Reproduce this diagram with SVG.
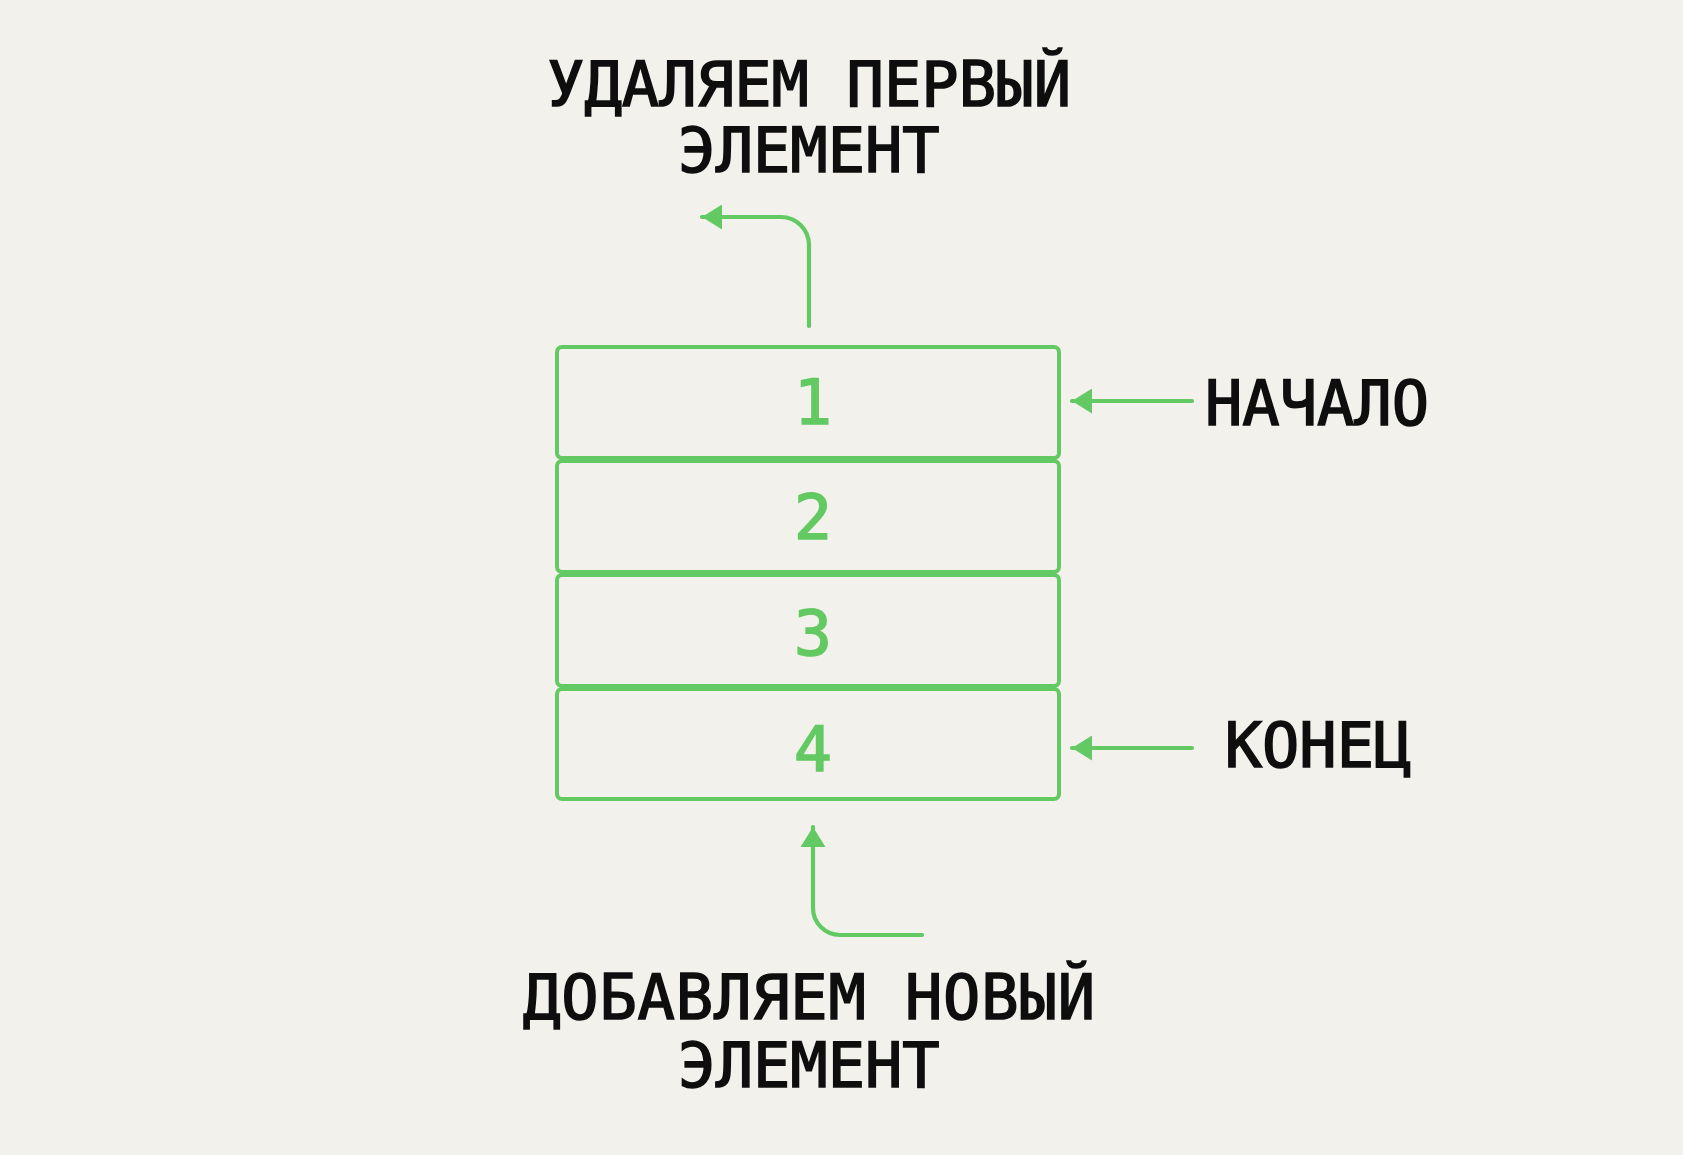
<svg xmlns="http://www.w3.org/2000/svg" width="1683" height="1155" viewBox="0 0 1683 1155">
<defs>
<style>
.bg{fill:#f2f1ec}
.box{fill:none;stroke:#63c962;stroke-width:4}
.num{font-family:"DejaVu Sans Mono","Liberation Mono",monospace;font-weight:normal;font-size:63px;fill:#63c962;stroke:#63c962;stroke-width:1.6;text-anchor:middle}
.lbl{font-family:"DejaVu Sans Mono","Liberation Mono",monospace;font-weight:normal;font-size:62px;fill:#0e0e0e;stroke:#0e0e0e;stroke-width:1.6;text-anchor:middle}
.con{fill:none;stroke:#63c962;stroke-width:4.2;stroke-linecap:round;marker-end:url(#ah)}
</style>
<marker id="ah" markerUnits="userSpaceOnUse" markerWidth="21" markerHeight="25" refX="20" refY="12.5" orient="auto">
<path d="M0,0 L20,12.5 L0,25 Z" fill="#63c962"/>
</marker>
</defs>
<rect class="bg" x="0" y="0" width="1683" height="1155"/>
<g id="connectors">
<path class="con" d="M809 326 V245 A28 28 0 0 0 781 217 H702"/>
<path class="con" d="M922 935 H840 A27 27 0 0 1 813 908 V827"/>
<path class="con" d="M1192 401 H1072"/>
<path class="con" d="M1192 748 H1072"/>
</g>
<g id="node-1"><rect class="box" x="557" y="347" width="502" height="111" rx="5"/><text class="num" x="813" y="424">1</text></g>
<g id="node-2"><rect class="box" x="557" y="461" width="502" height="111" rx="5"/><text class="num" x="813" y="539">2</text></g>
<g id="node-3"><rect class="box" x="557" y="575" width="502" height="111" rx="5"/><text class="num" x="813" y="655">3</text></g>
<g id="node-4"><rect class="box" x="557" y="689" width="502" height="110" rx="5"/><text class="num" x="813" y="771">4</text></g>
<g id="label-remove"><text class="lbl" x="809" y="106" textLength="524" lengthAdjust="spacing">УДАЛЯЕМ ПЕРВЫЙ</text><text class="lbl" x="809" y="172">ЭЛЕМЕНТ</text></g>
<g id="label-start"><text class="lbl" x="1317" y="425">НАЧАЛО</text></g>
<g id="label-end"><text class="lbl" x="1318" y="767">КОНЕЦ</text></g>
<g id="label-add"><text class="lbl" x="809" y="1019" textLength="572" lengthAdjust="spacing">ДОБАВЛЯЕМ НОВЫЙ</text><text class="lbl" x="809" y="1087">ЭЛЕМЕНТ</text></g>
</svg>
